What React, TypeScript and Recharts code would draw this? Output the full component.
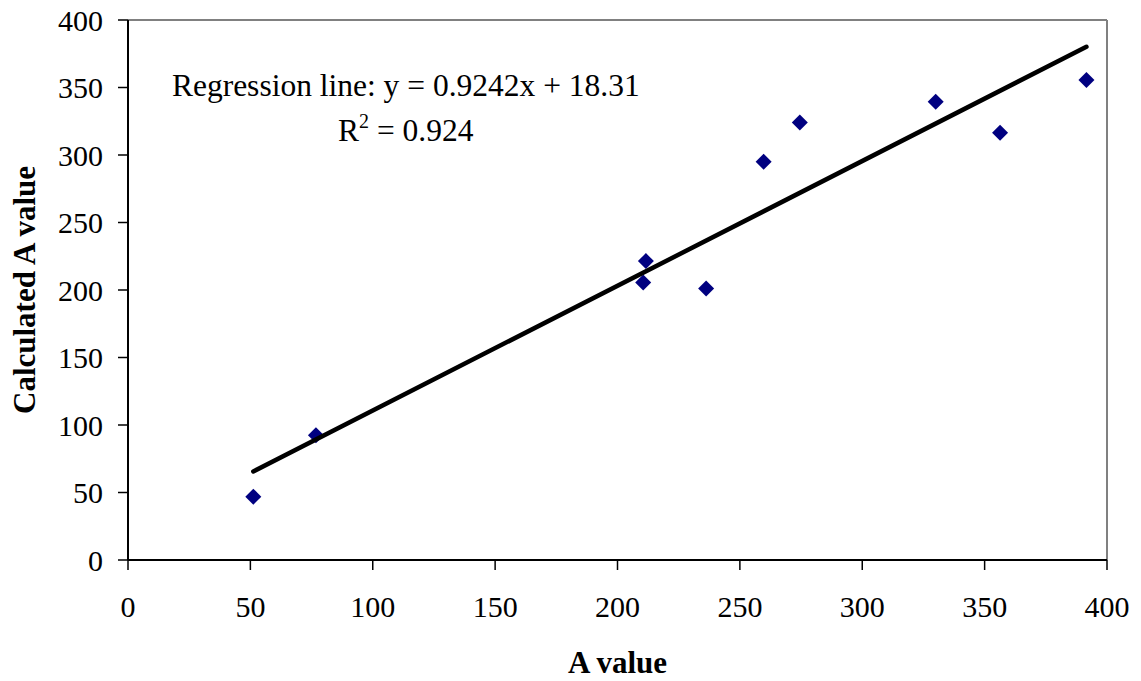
import React from 'react';
import {
  ScatterChart,
  Scatter,
  XAxis,
  YAxis,
  ReferenceLine,
  ReferenceDot,
  Label,
} from 'recharts';

const aValues = [51.2, 76.8, 210.5, 211.6, 236.2, 259.7, 274.5, 330.0, 356.3, 391.6];
const calcValues = [46.9, 92.4, 205.6, 221.4, 201.2, 295.0, 324.0, 339.5, 316.5, 355.5];
const trendX = [51.2, 391.6];
const trendY = [65.6, 380.2];
const axisTicks = [0, 50, 100, 150, 200, 250, 300, 350, 400];
const equationText = 'Regression line: y = 0.9242x + 18.31';
const r2Text = ' = 0.924';
const xTitle = 'A value';
const yTitle = 'Calculated A value';

const points = aValues.map((x, i) => ({ x, y: calcValues[i] }));
const trend = trendX.map((x, i) => ({ x, y: trendY[i] }));

const FONT = '"Liberation Serif", "Times New Roman", serif';

const Diamond = (props: any) => {
  const { cx, cy } = props;
  if (cx == null || cy == null) return <g />;
  const h = 8;
  return (
    <polygon
      points={`${cx},${cy - h} ${cx + h},${cy} ${cx},${cy + h} ${cx - h},${cy}`}
      fill="#000080"
    />
  );
};

const NoShape = () => <g />;

const TrendLine = (props: any) => {
  const pts = props.points || [];
  if (pts.length < 2) return <g />;
  const d = pts
    .map((p: any, i: number) => `${i === 0 ? 'M' : 'L'}${p.x},${p.y}`)
    .join(' ');
  return <path d={d} fill="none" stroke="#000" strokeWidth={4.5} strokeLinecap="round" />;
};

const YTitle = (props: any) => {
  const vb = props.viewBox || { x: 0, y: 20, width: 128, height: 540 };
  const x = vb.x + 35;
  const y = vb.y + vb.height / 2;
  return (
    <text
      x={x}
      y={y}
      transform={`rotate(-90 ${x} ${y})`}
      textAnchor="middle"
      fontFamily={FONT}
      fontSize={31}
      fontWeight="bold"
      fill="#000"
    >
      {yTitle}
    </text>
  );
};

const XTitle = (props: any) => {
  const vb = props.viewBox || { x: 128, y: 560, width: 979, height: 121 };
  const x = vb.x + vb.width / 2;
  const y = vb.y + 113;
  return (
    <text x={x} y={y} textAnchor="middle" fontFamily={FONT} fontSize={31} fontWeight="bold" fill="#000">
      {xTitle}
    </text>
  );
};

const Annotation = (props: any) => {
  const { cx, cy } = props;
  if (cx == null || cy == null) return <g />;
  return (
    <g>
      <text x={cx} y={cy} textAnchor="middle" fontFamily={FONT} fontSize={31.5} fill="#000">
        {equationText}
      </text>
      <text x={cx} y={cy + 45} textAnchor="middle" fontFamily={FONT} fontSize={31.5} fill="#000">
        R
        <tspan dy={-13} fontSize={20}>2</tspan>
        <tspan dy={13}>{r2Text}</tspan>
      </text>
    </g>
  );
};

export default function App() {
  const tickStyle = { fontSize: 30, fill: '#000', fontFamily: FONT };
  return (
    <div style={{ position: 'absolute', left: 0, top: 0, width: 1141, height: 681, background: '#fff' }}>
      <ScatterChart width={1141} height={681} margin={{ top: 20, right: 34, bottom: 0, left: 0 }}>
        <XAxis
          type="number"
          dataKey="x"
          domain={[0, 400]}
          ticks={axisTicks}
          height={121}
          axisLine={{ stroke: '#000', strokeWidth: 2 }}
          tickLine={{ stroke: '#000', strokeWidth: 1.5 }}
          tickSize={10}
          tickMargin={26}
          tick={tickStyle}
          interval={0}
          allowDataOverflow
        >
          <Label content={XTitle} />
        </XAxis>
        <YAxis
          type="number"
          dataKey="y"
          domain={[0, 400]}
          ticks={axisTicks}
          width={128}
          axisLine={{ stroke: '#000', strokeWidth: 2 }}
          tickLine={{ stroke: '#000', strokeWidth: 1.5 }}
          tickSize={10}
          tickMargin={15}
          tick={tickStyle}
          interval={0}
          allowDataOverflow
        >
          <Label content={YTitle} />
        </YAxis>
        <ReferenceLine y={400} stroke="#808080" strokeWidth={2} />
        <ReferenceLine x={400} stroke="#808080" strokeWidth={2} />
        <Scatter data={points} shape={Diamond} isAnimationActive={false} />
        <Scatter
          data={trend}
          shape={NoShape}
          line={TrendLine}
          lineType="joint"
          isAnimationActive={false}
        />
        <ReferenceDot x={113.5} y={344} r={0} shape={Annotation} />
      </ScatterChart>
    </div>
  );
}
